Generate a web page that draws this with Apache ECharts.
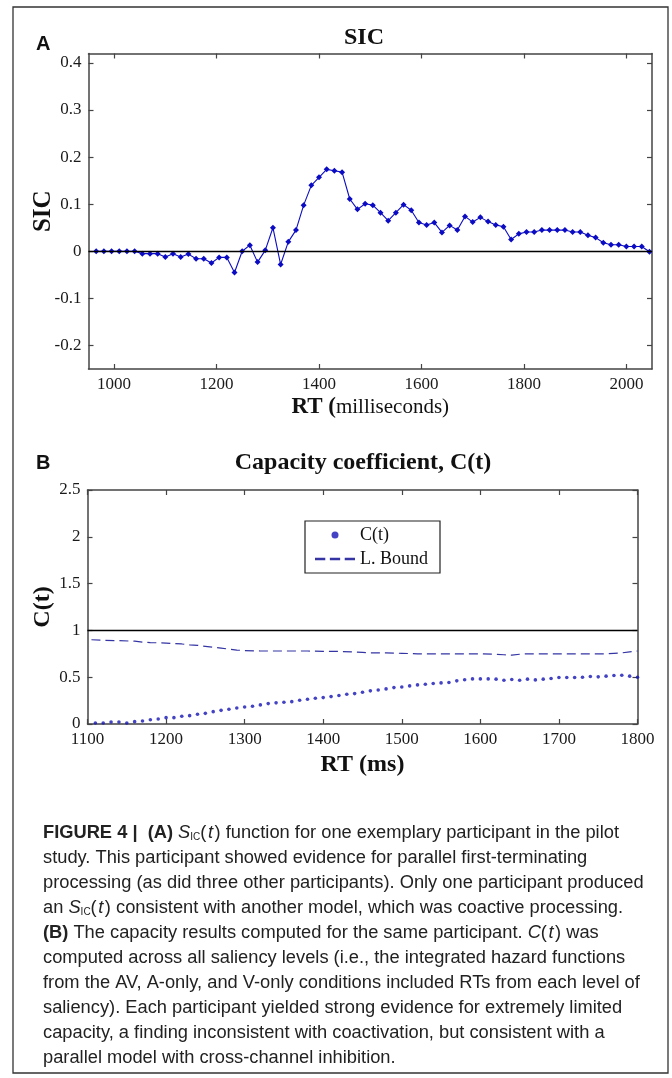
<!DOCTYPE html>
<html>
<head>
<meta charset="utf-8">
<script src="https://cdn.jsdelivr.net/npm/echarts@6.0.0/dist/echarts.min.js"></script>
<style>
html,body{margin:0;padding:0;background:#fff;}
#c{width:672px;height:1078px;}
</style>
</head>
<body>
<div id="c"></div>
<script>
// ---------- Panel A: SIC ----------
const sicX = [965,980,995,1010,1025,1040,1055,1070,1085,1100,1115,1130,1145,1160,1175,1190,1205,1220,1235,1250,1265,1280,1295,1310,1325,1340,1355,1370,1385,1400,1415,1430,1445,1460,1475,1490,1505,1520,1535,1550,1565,1580,1595,1610,1625,1640,1655,1670,1685,1700,1715,1730,1745,1760,1775,1790,1805,1820,1835,1850,1865,1880,1895,1910,1925,1940,1955,1970,1985,2000,2015,2030,2045];
const sicY = [0,0,0,0,0,0,-0.005,-0.005,-0.005,-0.012,-0.005,-0.012,-0.006,-0.016,-0.016,-0.025,-0.013,-0.013,-0.045,0,0.013,-0.023,0.002,0.050,-0.028,0.020,0.045,0.098,0.140,0.157,0.174,0.171,0.168,0.111,0.089,0.101,0.098,0.082,0.065,0.082,0.099,0.087,0.061,0.056,0.061,0.040,0.055,0.045,0.074,0.062,0.072,0.063,0.056,0.052,0.025,0.037,0.041,0.041,0.045,0.045,0.045,0.045,0.041,0.041,0.034,0.029,0.018,0.014,0.014,0.010,0.010,0.010,-0.001];
const sicXTicks = [1000,1200,1400,1600,1800,2000];
const sicYTicks = [-0.2,-0.1,0,0.1,0.2,0.3,0.4];
const sicRef = 0;

// ---------- Panel B: Capacity coefficient ----------
const capX = [1110,1120,1130,1140,1150,1160,1170,1180,1190,1200,1210,1220,1230,1240,1250,1260,1270,1280,1290,1300,1310,1320,1330,1340,1350,1360,1370,1380,1390,1400,1410,1420,1430,1440,1450,1460,1470,1480,1490,1500,1510,1520,1530,1540,1550,1560,1570,1580,1590,1600,1610,1620,1630,1640,1650,1660,1670,1680,1690,1700,1710,1720,1730,1740,1750,1760,1770,1780,1790,1800];
const capY = [0.011,0.011,0.021,0.021,0.011,0.025,0.032,0.046,0.054,0.068,0.068,0.082,0.089,0.104,0.114,0.132,0.146,0.157,0.171,0.182,0.189,0.204,0.218,0.226,0.232,0.239,0.254,0.264,0.275,0.282,0.293,0.304,0.318,0.325,0.339,0.354,0.364,0.375,0.389,0.396,0.407,0.418,0.425,0.432,0.439,0.443,0.461,0.473,0.482,0.482,0.482,0.479,0.468,0.475,0.468,0.479,0.471,0.479,0.486,0.496,0.496,0.496,0.500,0.507,0.504,0.511,0.518,0.521,0.511,0.500];
const lbX = [1105,1120,1140,1160,1170,1180,1200,1210,1220,1230,1240,1250,1260,1270,1280,1290,1300,1320,1340,1360,1380,1400,1420,1440,1450,1460,1480,1500,1520,1540,1560,1580,1600,1620,1630,1640,1650,1660,1680,1700,1720,1740,1760,1770,1780,1790,1800];
const lbY = [0.90,0.895,0.89,0.885,0.875,0.87,0.865,0.86,0.855,0.845,0.84,0.83,0.82,0.81,0.80,0.79,0.785,0.78,0.78,0.78,0.78,0.775,0.775,0.77,0.765,0.76,0.76,0.755,0.75,0.75,0.75,0.75,0.75,0.745,0.74,0.735,0.745,0.75,0.75,0.75,0.75,0.75,0.75,0.755,0.76,0.77,0.78];
const capRef = 1;
const capNames = ['C(t)', 'L. Bound'];

// ---------- Caption ----------
const captionLines = [
  '{b|FIGURE 4 |}  {b|(A)} {i|S}{s|IC}(\u200a{i|t}\u200a) function for one exemplary participant in the pilot',
  'study. This participant showed evidence for parallel first-terminating',
  'processing (as did three other participants). Only one participant produced',
  'an {i|S}{s|IC}(\u200a{i|t}\u200a) consistent with another model, which was coactive processing.',
  '{b|(B)} The capacity results computed for the same participant. {i|C}(\u200a{i|t}\u200a) was',
  'computed across all saliency levels (i.e., the integrated hazard functions',
  'from the AV, A-only, and V-only conditions included RTs from each level of',
  'saliency). Each participant yielded strong evidence for extremely limited',
  'capacity, a finding inconsistent with coactivation, but consistent with a',
  'parallel model with cross-channel inhibition.'
];

const SERIF = "'Liberation Serif', 'Times New Roman', serif";
const SANS = "'Liberation Sans', Arial, sans-serif";
const CAPFONT = "'Liberation Sans', Arial, sans-serif";
const CAPSIZE = 18.3;
const AX = '#444';
const BLUE = '#0b0bc4';

const zip = (xs, ys) => xs.map((x, i) => [x, ys[i]]);

function boxAxis(base, pos, showLabels) {
  return Object.assign({
    type: 'value',
    position: pos,
    nameMoveOverlap: false,
    splitLine: { show: false },
    axisLine: { show: true, onZero: false, lineStyle: { color: AX, width: 1.5 } },
    axisTick: { show: true, inside: true, length: 5, lineStyle: { color: AX, width: 1.2 } },
    axisLabel: { show: showLabels, color: '#1a1a1a', fontFamily: SERIF, fontSize: 17, margin: 7, formatter: v => String(v) }
  }, base);
}

const chart = echarts.init(document.getElementById('c'), null, { renderer: 'canvas' });

const xAxes = [
  boxAxis({ gridIndex: 0, min: 950, max: 2050,
    axisTick: { show: true, inside: true, length: 5, lineStyle: { color: AX, width: 1.2 }, customValues: sicXTicks },
    axisLabel: { show: true, color: '#1a1a1a', fontFamily: SERIF, fontSize: 17, margin: 7, customValues: sicXTicks, formatter: v => String(v) },
    name: '{b|RT (}{n|milliseconds)}', nameLocation: 'middle', nameGap: 27,
    nameTextStyle: { rich: { b: { fontFamily: SERIF, fontSize: 23, fontWeight: 'bold', color: '#111' }, n: { fontFamily: SERIF, fontSize: 21, color: '#111' } } }
  }, 'bottom', true),
  boxAxis({ gridIndex: 0, min: 950, max: 2050,
    axisTick: { show: true, inside: true, length: 5, lineStyle: { color: AX, width: 1.2 }, customValues: sicXTicks }
  }, 'top', false),
  boxAxis({ gridIndex: 1, min: 1100, max: 1800, interval: 100,
    name: 'RT (ms)', nameLocation: 'middle', nameGap: 29,
    nameTextStyle: { fontFamily: SERIF, fontSize: 24, fontWeight: 'bold', color: '#111' }
  }, 'bottom', true),
  boxAxis({ gridIndex: 1, min: 1100, max: 1800, interval: 100 }, 'top', false)
];

const yAxes = [
  boxAxis({ gridIndex: 0, min: -0.25, max: 0.42,
    axisTick: { show: true, inside: true, length: 5, lineStyle: { color: AX, width: 1.2 }, customValues: sicYTicks },
    axisLabel: { show: true, color: '#1a1a1a', fontFamily: SERIF, fontSize: 17, margin: 7, customValues: sicYTicks, formatter: v => String(v) },
    name: 'SIC', nameLocation: 'middle', nameGap: 32, nameRotate: 90,
    nameTextStyle: { fontFamily: SERIF, fontSize: 25, fontWeight: 'bold', color: '#111' }
  }, 'left', true),
  boxAxis({ gridIndex: 0, min: -0.25, max: 0.42,
    axisTick: { show: true, inside: true, length: 5, lineStyle: { color: AX, width: 1.2 }, customValues: sicYTicks }
  }, 'right', false),
  boxAxis({ gridIndex: 1, min: 0, max: 2.5, interval: 0.5,
    name: 'C(t)', nameLocation: 'middle', nameGap: 33, nameRotate: 90,
    nameTextStyle: { fontFamily: SERIF, fontSize: 24, fontWeight: 'bold', color: '#111' }
  }, 'left', true),
  boxAxis({ gridIndex: 1, min: 0, max: 2.5, interval: 0.5 }, 'right', false)
];

const graphics = [
  { type: 'rect', shape: { x: 13, y: 7, width: 655, height: 1066 }, style: { fill: 'none', stroke: '#333', lineWidth: 1.3 }, silent: true },
  { type: 'text', x: 36, y: 44, style: { text: 'A', font: "bold 20px " + SANS, fill: '#111', verticalAlign: 'middle' } },
  { type: 'text', x: 36, y: 463, style: { text: 'B', font: "bold 20px " + SANS, fill: '#111', verticalAlign: 'middle' } },
  { type: 'text', x: 364, y: 38, style: { text: 'SIC', font: "bold 24px " + SERIF, fill: '#111', align: 'center', verticalAlign: 'middle' } },
  { type: 'text', x: 363, y: 463, style: { text: 'Capacity coefficient, C(t)', font: "bold 24px " + SERIF, fill: '#111', align: 'center', verticalAlign: 'middle' } }
];
captionLines.forEach((ln, i) => {
  graphics.push({
    type: 'text', x: 43, y: 833 + 25 * i,
    style: {
      text: ln, fontFamily: CAPFONT, fontSize: CAPSIZE, fill: '#222', verticalAlign: 'middle',
      rich: {
        b: { fontFamily: CAPFONT, fontSize: CAPSIZE, fontWeight: 'bold', fill: '#222' },
        i: { fontFamily: CAPFONT, fontSize: CAPSIZE, fontStyle: 'italic', fill: '#222' },
        s: { fontFamily: CAPFONT, fontSize: 10, fill: '#222', verticalAlign: 'bottom', lineHeight: 14 }
      }
    }
  });
});

const dashIcon = 'path://M0,0 L9,0 L9,2 L0,2 Z M13,0 L22,0 L22,2 L13,2 Z M26,0 L35,0 L35,2 L26,2 Z';

chart.setOption({
  animation: false,
  backgroundColor: '#fff',
  grid: [
    { left: 88.5, right: 20, top: 53.5, height: 315.5 },
    { left: 87.5, right: 34.5, top: 490, height: 234 }
  ],
  xAxis: xAxes,
  yAxis: yAxes,
  legend: {
    data: [{ name: capNames[0], icon: 'circle' }, { name: capNames[1], icon: dashIcon }],
    orient: 'vertical',
    left: 305, top: 521,
    backgroundColor: '#fff',
    borderColor: '#222', borderWidth: 1.2, borderRadius: 0,
    padding: [5, 12, 5, 10],
    itemGap: 6, itemWidth: 40, itemHeight: 7,
    textStyle: { fontFamily: SERIF, fontSize: 18, color: '#111' },
    selectedMode: false
  },
  series: [
    {
      name: 'SIC', type: 'line', xAxisIndex: 0, yAxisIndex: 0,
      data: zip(sicX, sicY),
      symbol: 'diamond', symbolSize: 6, showSymbol: true,
      itemStyle: { color: BLUE },
      lineStyle: { color: BLUE, width: 1.1 },
      z: 3,
      markLine: { silent: true, symbol: 'none', label: { show: false },
        lineStyle: { color: '#000', width: 1.3, type: 'solid' },
        data: [{ yAxis: sicRef }] }
    },
    {
      name: capNames[0], type: 'scatter', xAxisIndex: 2, yAxisIndex: 2,
      data: zip(capX, capY), symbol: 'circle', symbolSize: 3.6,
      itemStyle: { color: '#1414b4' }, z: 3
    },
    {
      name: capNames[1], type: 'line', xAxisIndex: 2, yAxisIndex: 2,
      data: zip(lbX, lbY), symbol: 'none', showSymbol: false,
      itemStyle: { color: '#3434a4' },
      lineStyle: { color: '#3434a4', width: 1.2, type: [9, 5] },
      z: 3,
      markLine: { silent: true, symbol: 'none', label: { show: false },
        lineStyle: { color: '#000', width: 1.3, type: 'solid' },
        data: [{ yAxis: capRef }] }
    }
  ],
  graphic: graphics
});
</script>
</body>
</html>
